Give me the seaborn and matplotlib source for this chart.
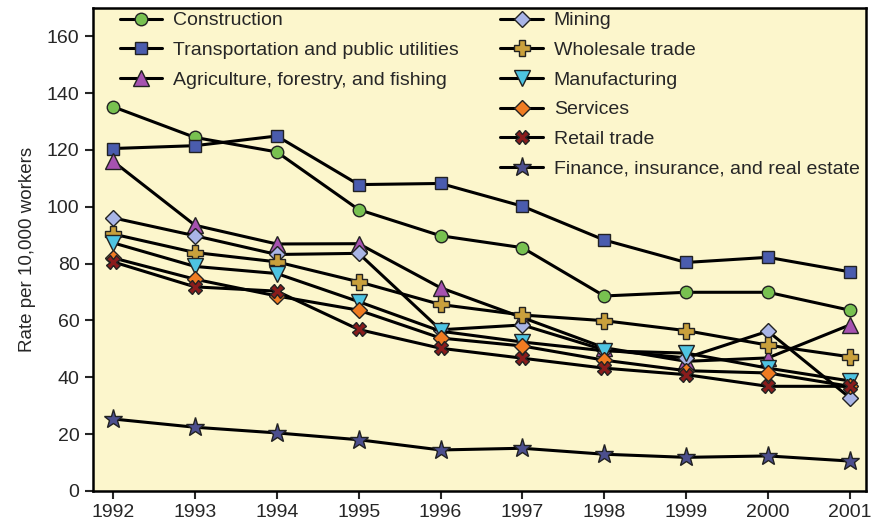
import matplotlib
matplotlib.use("Agg")
import matplotlib.pyplot as plt
import seaborn as sns

years = [1992, 1993, 1994, 1995, 1996, 1997, 1998, 1999, 2000, 2001]

construction = [135.2, 124.4, 119.3, 99.0, 89.8, 85.6, 68.6, 69.9, 69.9, 63.6]
transportation = [120.5, 121.5, 124.9, 107.8, 108.2, 100.2, 88.3, 80.4, 82.2, 77.1]
agriculture = [116.0, 93.5, 86.9, 87.0, 71.5, 61.0, 50.4, 45.6, 46.8, 58.4]
mining = [96.1, 89.8, 83.2, 83.6, 56.7, 58.4, 49.6, 46.8, 56.2, 32.8]
wholesale = [90.4, 83.9, 80.6, 73.6, 65.6, 61.9, 59.9, 56.4, 51.3, 47.2]
manufacturing = [87.3, 79.0, 76.5, 66.6, 56.2, 52.4, 49.3, 48.5, 43.2, 38.7]
services = [82.0, 74.5, 68.6, 63.6, 53.8, 51.0, 46.0, 42.3, 41.5, 36.8]
retail = [80.6, 71.8, 70.3, 56.8, 50.2, 46.7, 43.2, 40.9, 36.8, 36.8]
finance = [25.3, 22.4, 20.4, 18.0, 14.4, 15.0, 12.9, 11.8, 12.3, 10.5]

series_names = [
    "Construction",
    "Transportation and public utilities",
    "Agriculture, forestry, and fishing",
    "Mining",
    "Wholesale trade",
    "Manufacturing",
    "Services",
    "Retail trade",
    "Finance, insurance, and real estate",
]
series_values = [construction, transportation, agriculture, mining, wholesale,
                 manufacturing, services, retail, finance]
marker_colors = ["#78c150", "#4a5cae", "#a652b0", "#a9b5e6", "#c9a03c",
                 "#4ec4e2", "#f07c22", "#8a1c1c", "#4c4f8e"]
marker_shapes = ["o", "s", "^", "D", "P", "v", "D", "X", "*"]
marker_sizes = [9, 9, 11, 8, 11, 11, 8, 10, 14]

sns.set_style("ticks")
plt.rcParams["font.family"] = ["Liberation Sans", "DejaVu Sans"]

fig = plt.figure(figsize=(8.74, 5.25), dpi=100)
ax = fig.add_axes([0.106, 0.065, 0.885, 0.92])
ax.set_facecolor("#fcf6cc")

for name, vals, c, m, s in zip(series_names, series_values, marker_colors,
                               marker_shapes, marker_sizes):
    sns.lineplot(x=years, y=vals, ax=ax, color="black", linewidth=2.2,
                 marker=m, markersize=s, markerfacecolor=c,
                 markeredgecolor="#222222", markeredgewidth=1.0, label=name)

ax.set_xlim(1991.75, 2001.2)
ax.set_ylim(0, 170)
ax.set_xticks(years)
ax.set_yticks(range(0, 161, 20))
ax.tick_params(axis="both", labelsize=14, width=1.5, length=6, direction="out")
ax.set_ylabel("Rate per 10,000 workers", fontsize=13.5, labelpad=8)
ax.set_xlabel("")
for sp in ax.spines.values():
    sp.set_linewidth(1.8)
    sp.set_color("black")

handles, labels = ax.get_legend_handles_labels()
leg_kw = dict(frameon=False, fontsize=14, handlelength=2.2, handletextpad=0.55,
              labelspacing=0.62, borderpad=0, borderaxespad=0, loc="upper left")
leg1 = ax.legend(handles[:3], labels[:3], bbox_to_anchor=(0.035, 0.992), **leg_kw)
ax.add_artist(leg1)
ax.legend(handles[3:], labels[3:], bbox_to_anchor=(0.527, 0.992), **leg_kw)

fig.savefig("out.png", dpi=100)
